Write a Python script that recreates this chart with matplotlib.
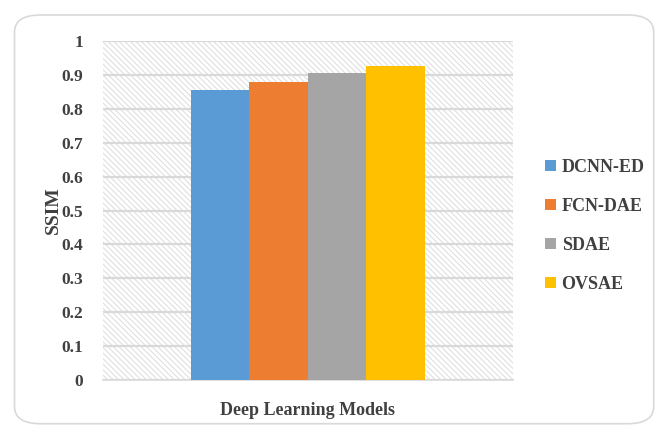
import numpy as np
import matplotlib
matplotlib.use('Agg')
import matplotlib.pyplot as plt
from matplotlib.patches import Rectangle, FancyBboxPatch

# data
models = ['DCNN-ED', 'FCN-DAE', 'SDAE', 'OVSAE']
ssim = [0.855, 0.879, 0.906, 0.926]
colors = ['#5b9bd5', '#ed7d31', '#a5a5a5', '#ffc000']
yticks = [0, 0.1, 0.2, 0.3, 0.4, 0.5, 0.6, 0.7, 0.8, 0.9, 1]
yticklabels = ['0', '0.1', '0.2', '0.3', '0.4', '0.5', '0.6', '0.7', '0.8', '0.9', '1']

plt.rcParams['font.family'] = ['Liberation Serif', 'DejaVu Serif']
plt.rcParams['font.weight'] = 'bold'
plt.rcParams['hatch.linewidth'] = 0.7

fig = plt.figure(figsize=(6.59, 4.28), dpi=100)

# rounded chart border
border = FancyBboxPatch((0.022, 0.01), 0.97, 0.955, boxstyle='round,pad=0,rounding_size=0.04',
                        transform=fig.transFigure, facecolor='white', edgecolor='#d9d9d9',
                        lw=1.2, zorder=-5)
fig.patches.append(border)

ax = fig.add_axes([0.156, 0.112, 0.622, 0.792])
ax.patch.set_alpha(0)

# hatched plot background
bg = Rectangle((0, 0), 1, 1, transform=ax.transAxes, facecolor='white',
               edgecolor='#dcdcdc', hatch='\\' * 6, lw=0, zorder=0)
ax.add_patch(bg)

ax.set_axisbelow(True)
ax.yaxis.grid(True, color='#d9d9d9', lw=1.6, zorder=1)

offsets = np.arange(len(models)) - (len(models) - 1) / 2.
for i, m in enumerate(models):
    ax.bar(offsets[i], ssim[i], width=1.0, color=colors[i], label=m, zorder=3)

ax.set_xlim(-3.5, 3.5)
ax.set_ylim(0, 1)
ax.set_yticks(yticks)
ax.set_yticklabels(yticklabels, fontsize=12.5, color='#404040', fontweight='bold')
ax.set_xticks([])
ax.tick_params(axis='y', length=0, pad=14)
for s in ['top', 'right', 'left']:
    ax.spines[s].set_visible(False)
ax.spines['bottom'].set_color('#d9d9d9')
ax.spines['bottom'].set_linewidth(1.2)

ax.set_ylabel('SSIM', fontsize=14, color='#404040', fontweight='bold', labelpad=0)
ax.set_xlabel('Deep Learning Models', fontsize=13, color='#404040', fontweight='bold', labelpad=16)

leg = ax.legend(loc='center left', bbox_to_anchor=(1.04, 0.455), frameon=False,
                handlelength=0.6, handleheight=0.6, handletextpad=0.3, labelspacing=1.22,
                prop={'family': 'Liberation Serif', 'weight': 'bold', 'size': 13})
for t in leg.get_texts():
    t.set_color('#404040')

fig.savefig('out.png', dpi=100)
